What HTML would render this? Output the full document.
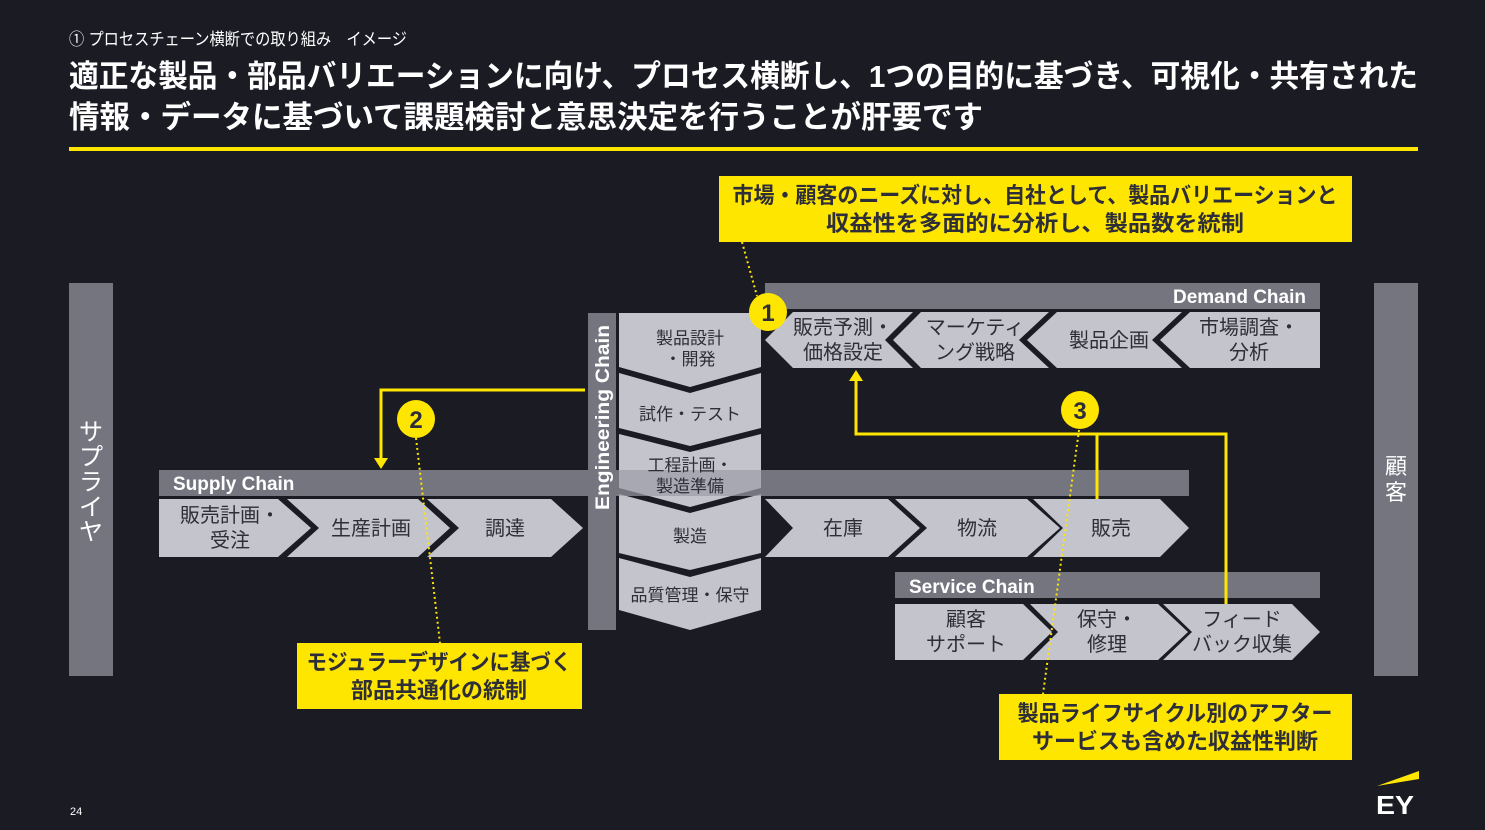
<!DOCTYPE html>
<html><head><meta charset="utf-8"><style>
html,body{margin:0;padding:0;background:#1b1b24;}
svg{display:block;}
text{font-family:"Liberation Sans","Noto Sans CJK JP",sans-serif;}
</style></head><body>
<svg width="1485" height="830" viewBox="0 0 1485 830" xmlns="http://www.w3.org/2000/svg">
<rect width="1485" height="830" fill="#1b1b24"/>
<!-- header -->
<text x="69" y="45" font-size="17" fill="#fff" textLength="338" lengthAdjust="spacingAndGlyphs">① プロセスチェーン横断での取り組み　イメージ</text>
<text x="69" y="87" font-size="31" font-weight="bold" fill="#fff" textLength="1349" lengthAdjust="spacingAndGlyphs">適正な製品・部品バリエーションに向け、プロセス横断し、1つの目的に基づき、可視化・共有された</text>
<text x="69" y="128" font-size="31" font-weight="bold" fill="#fff" textLength="914" lengthAdjust="spacingAndGlyphs">情報・データに基づいて課題検討と意思決定を行うことが肝要です</text>
<rect x="69" y="147" width="1349" height="4" fill="#ffe600"/>

<!-- side bars -->
<rect x="69" y="283" width="44" height="393" fill="#757580"/>
<g font-size="24" fill="#fff" text-anchor="middle">
<text x="91" y="440">サ</text><text x="91" y="465">プ</text><text x="91" y="490">ラ</text><text x="91" y="515">イ</text><text x="91" y="540">ヤ</text>
</g>
<rect x="1374" y="283" width="44" height="393" fill="#757580"/>
<text x="1396" y="474" font-size="22" fill="#fff" text-anchor="middle">顧</text>
<text x="1396" y="500" font-size="22" fill="#fff" text-anchor="middle">客</text>

<!-- supply chain header -->
<rect x="159" y="470" width="1030" height="26" fill="#757580"/>
<text x="173" y="490" font-size="19" font-weight="bold" fill="#fff">Supply Chain</text>

<g fill="#c4c4cc">
<!-- supply chevrons -->
<polygon points="159,499 278,499 311,528 278,557 159,557"/>
<polygon points="287,499 418,499 450,528 418,557 287,557 319,528"/>
<polygon points="427,499 551,499 583,528 551,557 427,557 459,528"/>
<!-- right main -->
<polygon points="765,499 888,499 920,528 888,557 765,557 793,528"/>
<polygon points="895,499 1027,499 1060,528 1027,557 895,557 927,528"/>
<polygon points="1033,499 1160,499 1189,528 1160,557 1033,557 1063,528"/>
<!-- demand (left pointing) -->
<polygon points="793,312 913,312 885,340 913,368 793,368 765,340"/>
<polygon points="921,312 1049,312 1019,340 1049,368 921,368 893,340"/>
<polygon points="1057,312 1182,312 1152,340 1182,368 1057,368 1027,340"/>
<polygon points="1190,312 1320,312 1320,368 1190,368 1160,340"/>
<!-- service -->
<polygon points="895,604 1023,604 1052,632 1023,660 895,660"/>
<polygon points="1030,604 1158,604 1188,632 1158,660 1030,660 1058,632"/>
<polygon points="1163,604 1292,604 1320,632 1292,660 1163,660 1192,632"/>
<!-- engineering blocks -->
<polygon points="619,313 761,313 761,367 690,387 619,367"/>
<polygon points="619,373 690,393 761,373 761,428 690,446 619,428"/>
<polygon points="619,434 690,452 761,434 761,488 690,507 619,488"/>
<polygon points="619,494 690,513 761,494 761,553 690,570 619,553"/>
<polygon points="619,558 690,577 761,558 761,610 690,630 619,610"/>
</g>
<rect x="619" y="470" width="142" height="26" fill="#757580" opacity="0.35"/>

<!-- engineering bar -->
<rect x="588" y="313" width="28" height="317" fill="#757580"/>
<text transform="translate(609,510) rotate(-90)" font-size="19" font-weight="bold" fill="#fff" textLength="185" lengthAdjust="spacingAndGlyphs">Engineering Chain</text>

<!-- demand header -->
<rect x="765" y="283" width="555" height="26" fill="#757580"/>
<text x="1306" y="303" font-size="19" font-weight="bold" fill="#fff" text-anchor="end">Demand Chain</text>
<!-- service header -->
<rect x="895" y="572" width="425" height="26" fill="#757580"/>
<text x="909" y="593" font-size="19" font-weight="bold" fill="#fff">Service Chain</text>

<!-- chevron labels -->
<g font-size="20" fill="#2e2e38" text-anchor="middle">
<text x="230" y="522">販売計画・</text><text x="230" y="547">受注</text>
<text x="371" y="535">生産計画</text>
<text x="505" y="535">調達</text>
<text x="843" y="535">在庫</text>
<text x="977" y="535">物流</text>
<text x="1111" y="535">販売</text>
<text x="843" y="334">販売予測・</text><text x="843" y="359">価格設定</text>
<text x="975" y="334">マーケティ</text><text x="975" y="359">ング戦略</text>
<text x="1109" y="347">製品企画</text>
<text x="1249" y="334">市場調査・</text><text x="1249" y="359">分析</text>
<text x="966" y="626">顧客</text><text x="966" y="651">サポート</text>
<text x="1107" y="626">保守・</text><text x="1107" y="651">修理</text>
<text x="1242" y="626">フィード</text><text x="1242" y="651">バック収集</text>
</g>
<g font-size="17" fill="#2e2e38" text-anchor="middle">
<text x="690" y="344">製品設計</text><text x="690" y="365">・開発</text>
<text x="690" y="420">試作・テスト</text>
<text x="690" y="471">工程計画・</text><text x="690" y="492">製造準備</text>
<text x="690" y="542">製造</text>
<text x="690" y="601">品質管理・保守</text>
</g>

<!-- yellow connectors -->
<g stroke="#ffe600" stroke-width="3" fill="none">
<polyline points="585,390 381,390 381,460"/>
<polyline points="856,378 856,434 1226,434 1226,604"/>
<line x1="1097" y1="434" x2="1097" y2="499"/>
</g>
<polygon points="374,458 388,458 381,469" fill="#ffe600"/>
<polygon points="849,381 863,381 856,370" fill="#ffe600"/>
<g stroke="#ffe600" stroke-width="2" stroke-dasharray="2,3" fill="none">
<line x1="742" y1="242" x2="757" y2="296"/>
<line x1="416" y1="438" x2="440" y2="643"/>
<line x1="1079" y1="430" x2="1043" y2="694"/>
</g>
<g fill="#ffe600">
<circle cx="768" cy="312" r="19"/>
<circle cx="416" cy="419" r="19"/>
<circle cx="1080" cy="410" r="19"/>
</g>
<g font-size="24" font-weight="bold" fill="#2e2e38" text-anchor="middle">
<text x="768" y="321">1</text><text x="416" y="428">2</text><text x="1080" y="419">3</text>
</g>

<!-- callouts -->
<rect x="719" y="176" width="633" height="66" fill="#ffe600"/>
<g font-size="22" font-weight="bold" fill="#2e2e38" text-anchor="middle">
<text x="1035" y="203" textLength="605" lengthAdjust="spacingAndGlyphs">市場・顧客のニーズに対し、自社として、製品バリエーションと</text>
<text x="1035" y="231" textLength="418" lengthAdjust="spacingAndGlyphs">収益性を多面的に分析し、製品数を統制</text>
</g>
<rect x="297" y="643" width="285" height="66" fill="#ffe600"/>
<g font-size="22" font-weight="bold" fill="#2e2e38" text-anchor="middle">
<text x="439" y="670" textLength="265" lengthAdjust="spacingAndGlyphs">モジュラーデザインに基づく</text>
<text x="439" y="698">部品共通化の統制</text>
</g>
<rect x="999" y="694" width="353" height="66" fill="#ffe600"/>
<g font-size="22" font-weight="bold" fill="#2e2e38" text-anchor="middle">
<text x="1175" y="721" textLength="315" lengthAdjust="spacingAndGlyphs">製品ライフサイクル別のアフター</text>
<text x="1175" y="749">サービスも含めた収益性判断</text>
</g>

<!-- footer -->
<text x="70" y="815" font-size="11" fill="#fff">24</text>
<polygon points="1377,786 1419,771 1419,779" fill="#ffe600"/>
<text x="1376" y="814" font-size="26" font-weight="bold" fill="#fff" textLength="38" lengthAdjust="spacingAndGlyphs">EY</text>
</svg>
</body></html>
